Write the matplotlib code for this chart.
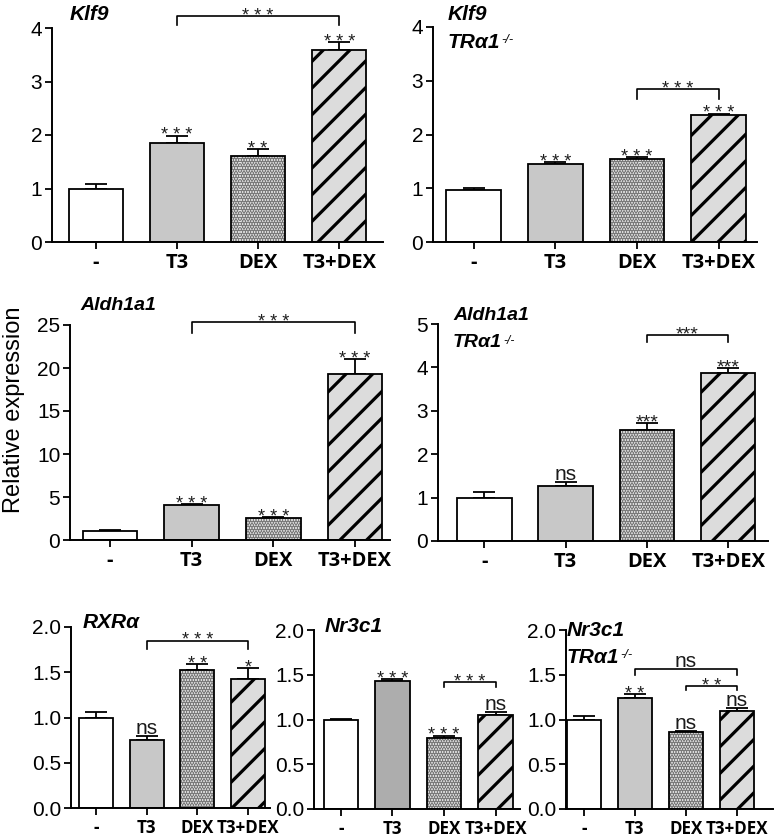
import matplotlib
matplotlib.use('Agg')
import matplotlib.pyplot as plt
import numpy as np

DPI = 80
K = 100 / DPI  # sizes below are given as points at 100 dpi


def p(v):
    return v * K


plt.rcParams['font.family'] = ['Liberation Sans', 'DejaVu Sans']
plt.rcParams['hatch.linewidth'] = p(2.3)

W, H = 780, 839

groups = ['-', 'T3', 'DEX', 'T3+DEX']

# values (mean, upper error)
klf9 = [1.00, 1.85, 1.61, 3.58]
klf9_err = [0.09, 0.14, 0.13, 0.15]
klf9_ko = [0.97, 1.45, 1.54, 2.36]
klf9_ko_err = [0.03, 0.04, 0.04, 0.03]
aldh = [1.05, 4.1, 2.6, 19.3]
aldh_err = [0.12, 0.1, 0.08, 1.7]
aldh_ko = [1.00, 1.27, 2.55, 3.87]
aldh_ko_err = [0.12, 0.08, 0.17, 0.12]
rxra = [1.00, 0.75, 1.52, 1.43]
rxra_err = [0.06, 0.05, 0.07, 0.12]
nr3c1 = [1.00, 1.43, 0.79, 1.05]
nr3c1_err = [0.01, 0.02, 0.03, 0.03]
nr3c1_ko = [1.00, 1.235, 0.86, 1.10]
nr3c1_ko_err = [0.04, 0.05, 0.01, 0.03]

# significance vs control
klf9_sig = ['', '***', '**', '***']
klf9_ko_sig = ['', '***', '***', '***']
aldh_sig = ['', '***', '***', '***']
aldh_ko_sig = ['', 'ns', '***', '***']
rxra_sig = ['', 'ns', '**', '*']
nr3c1_sig = ['', '***', '***', 'ns']
nr3c1_ko_sig = ['', '**', 'ns', 'ns']

# comparison brackets (from, to, label)
klf9_br = [(1, 3, '***')]
klf9_ko_br = [(2, 3, '***')]
aldh_br = [(1, 3, '***')]
aldh_ko_br = [(2, 3, '***')]
rxra_br = [(1, 3, '***')]
nr3c1_br = [(2, 3, '***')]
nr3c1_ko_br = [(1, 3, 'ns'), (2, 3, '**')]


def rect(l, t, r, b):
    return [l / W, 1 - b / H, (r - l) / W, (b - t) / H]


def star_text(s, spaced):
    if s.startswith('*') and spaced:
        return ' '.join(s)
    return s


def label(ax, s, xy, fs_ns, fs_star, spaced):
    if s == 'ns':
        ax.annotate(s, xy, xytext=(0, p(1.5)), textcoords='offset points',
                    ha='center', va='baseline', fontsize=p(fs_ns), color='#1a1a1a',
                    annotation_clip=False)
    else:
        ax.annotate(star_text(s, spaced), xy, xytext=(0, p(-3.5)),
                    textcoords='offset points', ha='center', va='baseline',
                    fontsize=p(fs_star), color='#1e1e1e', annotation_clip=False)


def panel(ax, vals, errs, sig, brackets, levels, ymax, step, xlim, fmt,
          fs_tick, fs_star, fs_cat, t3_color='#c8c8c8', spaced=True):
    x = np.arange(len(groups))
    vals = np.array(vals)
    errs = np.array(errs)
    w = 0.67
    lw = p(1.3)
    ax.bar(x[:2], vals[:2], w, color=['white', t3_color], edgecolor='black',
           linewidth=lw, zorder=2)
    ax.bar(x[2], vals[2], w, color='#ececec', edgecolor='#7a7a7a', hatch='.....',
           linewidth=0, zorder=2)
    ax.bar(x[2], vals[2], w, fill=False, edgecolor='black', linewidth=lw, zorder=3)
    ax.bar(x[3], vals[3], w, color='#dcdcdc', edgecolor='black', hatch='/',
           linewidth=lw, zorder=2)
    ax.errorbar(x, vals, yerr=[np.zeros(4), errs], fmt='none', ecolor='black',
                elinewidth=p(1.3), capsize=p(8), capthick=p(1.3), zorder=1)
    tops = vals + errs
    for i, s in enumerate(sig):
        if s:
            label(ax, s, (x[i], tops[i]), fs_tick, fs_star, spaced)
    for (a, b, s), (lev, drop) in zip(brackets, levels):
        ax.plot([x[a], x[a], x[b], x[b]], [lev - drop, lev, lev, lev - drop],
                color='black', lw=p(1.2), clip_on=False)
        label(ax, s, ((x[a] + x[b]) / 2, lev), fs_tick, fs_star, spaced)
    ax.set_ylim(0, ymax)
    ax.set_xlim(*xlim)
    ticks = np.arange(0, ymax + step / 2, step)
    ax.set_yticks(ticks)
    ax.set_yticklabels([fmt.format(t) for t in ticks])
    ax.set_xticks(x)
    ax.set_xticklabels(groups)
    for lab in ax.get_xticklabels():
        lab.set_fontfamily('Open Sans')
        lab.set_fontweight('bold')
        lab.set_fontsize(p(fs_cat))
    for lab in ax.get_yticklabels():
        lab.set_fontsize(p(fs_tick))
    for sp in ['top', 'right']:
        ax.spines[sp].set_visible(False)
    for sp in ['left', 'bottom']:
        ax.spines[sp].set_linewidth(p(1.4))
    ax.tick_params(axis='y', direction='out', length=p(5), width=p(1.3), pad=p(2))
    ax.tick_params(axis='x', direction='out', length=p(5), width=p(1.3), pad=p(3))


fig = plt.figure(figsize=(W / DPI, H / DPI), dpi=DPI)

ax1 = fig.add_axes(rect(52, 28, 383, 242))
panel(ax1, klf9, klf9_err, klf9_sig, klf9_br, [(4.23, 0.17)], 4, 1,
      (-0.54, 3.54), '{:.0f}', 15, 13, 14.5)
ax2 = fig.add_axes(rect(433, 27, 757, 242))
panel(ax2, klf9_ko, klf9_ko_err, klf9_ko_sig, klf9_ko_br, [(2.84, 0.18)], 4, 1,
      (-0.5, 3.47), '{:.0f}', 15, 13, 14.5)
ax3 = fig.add_axes(rect(70, 325, 390, 540))
panel(ax3, aldh, aldh_err, aldh_sig, aldh_br, [(25.3, 1.2)], 25, 5,
      (-0.49, 3.43), '{:.0f}', 15, 13, 14.5)
ax4 = fig.add_axes(rect(438, 324, 768, 541))
panel(ax4, aldh_ko, aldh_ko_err, aldh_ko_sig, aldh_ko_br, [(4.75, 0.16)], 5, 1,
      (-0.57, 3.49), '{:.0f}', 15, 14, 14.5, spaced=False)
ax5 = fig.add_axes(rect(71, 627, 270, 808))
panel(ax5, rxra, rxra_err, rxra_sig, rxra_br, [(1.85, 0.09)], 2, 0.5,
      (-0.49, 3.43), '{:.1f}', 15, 13, 12.2)
ax6 = fig.add_axes(rect(314, 630, 520, 809))
panel(ax6, nr3c1, nr3c1_err, nr3c1_sig, nr3c1_br, [(1.42, 0.06)], 2, 0.5,
      (-0.52, 3.47), '{:.1f}', 15, 13, 12.2, t3_color='#adadad')
ax7 = fig.add_axes(rect(566, 630, 773, 809))
panel(ax7, nr3c1_ko, nr3c1_ko_err, nr3c1_ko_sig, nr3c1_ko_br,
      [(1.56, 0.06), (1.37, 0.04)], 2, 0.5, (-0.35, 3.71), '{:.1f}', 15, 13, 12.2)

titles = [
    (['Klf9'], 70, 15, 15),
    (['Klf9', 'TRα1'], 448, 15, 15),
    (['Aldh1a1'], 80, 305, 14),
    (['Aldh1a1', 'TRα1'], 453, 315, 14),
    (['RXRα'], 83, 623, 15),
    (['Nr3c1'], 325, 627, 15),
    (['Nr3c1', 'TRα1'], 567, 630, 15),
]
ko_texts = []
for lines, x0, y0, fs in titles:
    for k, line in enumerate(lines):
        t = fig.text(x0 / W, 1 - (y0 + k * 27.5) / H, line, fontsize=p(fs),
                     fontweight='bold', fontstyle='italic', va='center', ha='left')
        if line.startswith('TR'):
            ko_texts.append((t, fs))

fig.text(14 / W, 1 - 410 / H, 'Relative expression', rotation=90, fontsize=p(17),
         ha='center', va='center')

# superscript -/- after the TRα1 labels
fig.canvas.draw()
for t, fs in ko_texts:
    bb = t.get_window_extent()
    fig.text((bb.x1 + 1) / W, (bb.y1 - 1) / H, '-/-', fontsize=p(fs * 0.62),
             fontstyle='italic', va='top', ha='left')

fig.savefig('out.png', dpi=DPI)
